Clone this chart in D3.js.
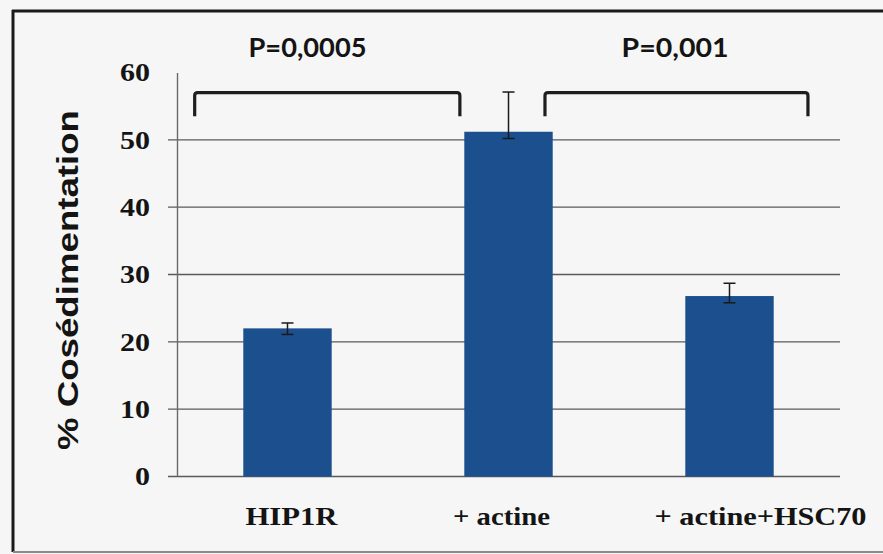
<!DOCTYPE html>
<html>
<head>
<meta charset="utf-8">
<script src="https://cdn.jsdelivr.net/npm/d3@7"></script>
<style>
  html, body { margin: 0; padding: 0; background: #f6f6f6; }
  svg { display: block; }
</style>
</head>
<body>
<svg id="chart" width="883" height="554"></svg>
<script>
// Cosedimentation of HIP1R alone, with actin, and with actin + HSC70
const categories = ["HIP1R", "+ actine", "+ actine+HSC70"];
const values = [22.0, 51.2, 26.8];
const errorUp = [0.8, 5.9, 1.9];
const errorDown = [0.9, 1.0, 1.0];
const yTicks = [0, 10, 20, 30, 40, 50, 60];
const pLabels = ["P=0,0005", "P=0,001"];
const pPairs = [[0, 1], [1, 2]];
const bracketTop = 57;
const bracketTip = 53.5;

// layout
const W = 883, H = 554;
const plot = { left: 177, right: 840, top: 72.5, bottom: 476.5 };
const barColor = "#1b4f8e";
const ink = "#141414";
const serif = "'Liberation Serif', 'Times New Roman', serif";
const sans = "Lato, 'Open Sans', sans-serif";

// bracket ends, in category-index units (0 = centre of first band)
const bracketSpans = [[-0.42, 0.78], [1.165, 2.355]];
// label width targets (px) and horizontal nudges
const catLabelWidths = [92, 97, 212];
const catLabelShift = [4, -7, 31];
const pLabelWidths = [118, 107];
const pLabelCenters = [307.5, 675];

const svg = d3.select("#chart");

const x = d3.scaleBand()
  .domain(categories)
  .range([plot.left, plot.right])
  .paddingInner(0.6)
  .paddingOuter(0.3);

const y = d3.scaleLinear()
  .domain([0, 60])
  .range([plot.bottom, plot.top]);

const idx = d3.scaleLinear()
  .domain([0, 1])
  .range([x(categories[0]) + x.bandwidth() / 2, x(categories[1]) + x.bandwidth() / 2]);

// frame around the figure
svg.append("rect").attr("width", W).attr("height", H).attr("fill", "#f6f6f6");
svg.append("line").attr("x1", 13).attr("x2", 13).attr("y1", 10).attr("y2", 552)
  .attr("stroke", "#1a1a1a").attr("stroke-width", 3);
svg.append("line").attr("x1", 12).attr("x2", W).attr("y1", 11).attr("y2", 11)
  .attr("stroke", "#1a1a1a").attr("stroke-width", 3);
svg.append("line").attr("x1", 13).attr("x2", W).attr("y1", 552).attr("y2", 552)
  .attr("stroke", "#8a8a8a").attr("stroke-width", 2);

// gridlines (with ticks) for every value below the top
svg.append("g")
  .selectAll("line")
  .data(yTicks.filter(d => d < 60))
  .join("line")
  .attr("x1", plot.left - 9)
  .attr("x2", plot.right)
  .attr("y1", d => y(d))
  .attr("y2", d => y(d))
  .attr("stroke", "#5a5a5a")
  .attr("stroke-width", 1.3);

// y axis
const yAxis = d3.axisLeft(y).tickValues(yTicks).tickSize(0).tickPadding(27);
const gy = svg.append("g").attr("transform", `translate(${plot.left},0)`).call(yAxis);
gy.select(".domain").attr("stroke", "#6a6a6a").attr("stroke-width", 1.4);
gy.selectAll(".tick text")
  .attr("font-family", serif)
  .attr("font-weight", "bold")
  .attr("font-size", 26)
  .attr("fill", ink)
  .attr("textLength", d => String(d).length * 15)
  .attr("lengthAdjust", "spacingAndGlyphs");

// bars
svg.append("g")
  .selectAll("rect")
  .data(values)
  .join("rect")
  .attr("x", (d, i) => x(categories[i]))
  .attr("width", x.bandwidth())
  .attr("y", d => y(d))
  .attr("height", d => y(0) - y(d))
  .attr("fill", barColor);

// error bars
const eg = svg.append("g").attr("stroke", "#1a1a1a").attr("stroke-width", 1.5);
values.forEach((v, i) => {
  const cx = x(categories[i]) + x.bandwidth() / 2;
  const hi = y(v + errorUp[i]);
  const lo = y(v - errorDown[i]);
  eg.append("line").attr("x1", cx).attr("x2", cx).attr("y1", hi).attr("y2", lo);
  eg.append("line").attr("x1", cx - 6).attr("x2", cx + 6).attr("y1", hi).attr("y2", hi);
  eg.append("line").attr("x1", cx - 6).attr("x2", cx + 6).attr("y1", lo).attr("y2", lo);
});

// category labels
svg.append("g")
  .selectAll("text")
  .data(categories)
  .join("text")
  .attr("x", (d, i) => x(d) + x.bandwidth() / 2 + catLabelShift[i])
  .attr("y", 525)
  .attr("text-anchor", "middle")
  .attr("font-family", serif)
  .attr("font-weight", "bold")
  .attr("font-size", 26)
  .attr("fill", ink)
  .attr("textLength", (d, i) => catLabelWidths[i])
  .attr("lengthAdjust", "spacingAndGlyphs")
  .text(d => d);

// y axis title
svg.append("text")
  .attr("transform", "translate(78,280) rotate(-90)")
  .attr("text-anchor", "middle")
  .attr("font-family", "'Liberation Sans', Arial, sans-serif")
  .attr("font-weight", "bold")
  .attr("font-size", 29)
  .attr("fill", ink)
  .attr("textLength", 340)
  .attr("lengthAdjust", "spacingAndGlyphs")
  .text("%  Cosédimentation");

// significance brackets
const bg = svg.append("g");
pPairs.forEach((pair, k) => {
  const [a, b] = bracketSpans[k].map(idx);
  const yt = y(bracketTop), yb = y(bracketTip);
  const r = 3;
  bg.append("path")
    .attr("d", `M${a},${yb} V${yt + r} Q${a},${yt} ${a + r},${yt} H${b - r} Q${b},${yt} ${b},${yt + r} V${yb}`)
    .attr("fill", "none")
    .attr("stroke", "#1e1e1e")
    .attr("stroke-width", 3.2);
  bg.append("text")
    .attr("x", pLabelCenters[k])
    .attr("y", 57)
    .attr("text-anchor", "middle")
    .attr("font-family", sans)
    .attr("font-weight", "bold")
    .attr("font-size", 27)
    .attr("fill", ink)
    .attr("textLength", pLabelWidths[k])
    .attr("lengthAdjust", "spacingAndGlyphs")
    .text(pLabels[k]);
});
</script>
</body>
</html>
